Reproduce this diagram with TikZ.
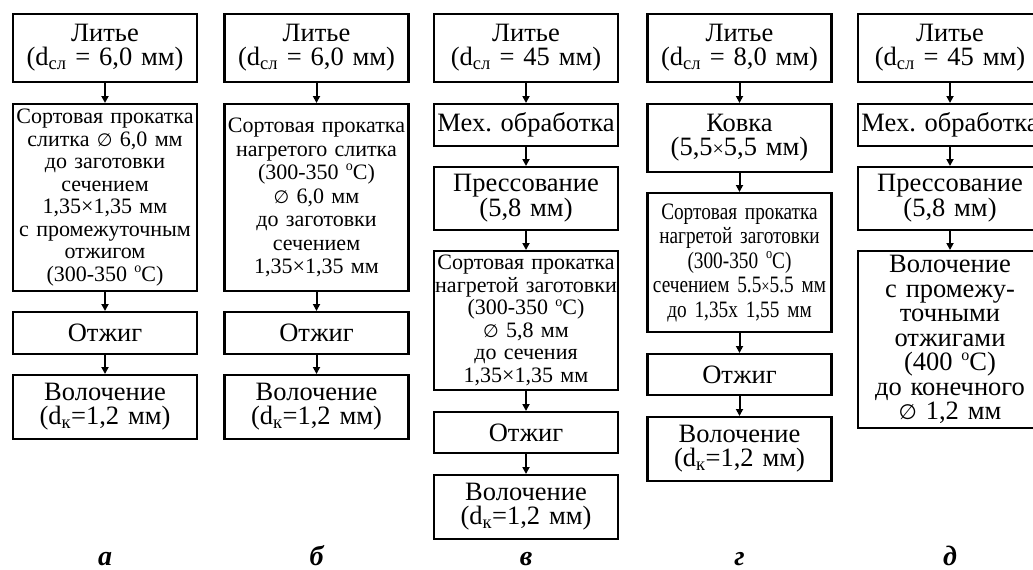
\documentclass[tikz,border=0pt]{standalone}
\usepackage{fontspec}
\setmainfont{Liberation Serif}
\newfontfamily\narrowserif{Liberation Serif}[FakeStretch=0.82]
\newfontfamily\symsans{DejaVu Sans}
\newcommand\dgr[1]{\raisebox{0.4em}{\fontsize{#1}{#1}\selectfont o}}
\newcommand\dia{{\symsans ∅}}
\usetikzlibrary{arrows.meta}
\begin{document}
\frenchspacing
\begin{tikzpicture}[x=1pt,y=-1pt]
\tikzset{
 bx/.style={draw, line width=2.2pt, inner xsep=1pt, inner ysep=0pt, text width=182pt,
   align=center, anchor=north, font=\fontsize{26.5}{24}\selectfont},
 sm/.style={font=\fontsize{22}{22.5}\selectfont},
 nar/.style={font=\narrowserif\fontsize{23.5}{24.5}\selectfont},
 arr/.style={line width=2pt, -{Triangle[length=7pt,width=7pt]}},
 lbl/.style={font=\fontsize{28}{28}\selectfont\bfseries\itshape, anchor=base}
}
\useasboundingbox (0,0) rectangle (1033,570);
\clip (0,0) rectangle (1033,570);
% column a
\node[bx, minimum height=68pt] (a1) at (105,13) {Литье\\(d\textsubscript{сл} = 6,0 мм)};
\node[bx, sm, minimum height=187pt] (a2) at (105,103) {Сортовая прокатка\\слитка {\fontsize{18}{18}\selectfont\dia} 6,0 мм\\до заготовки\\сечением\\1,35×1,35 мм\\с промежуточным\\отжигом\\(300-350 \dgr{14}С)};
\node[bx, minimum height=42pt] (a3) at (105,311) {Отжиг};
\node[bx, minimum height=64pt] (a4) at (105,374) {Волочение\\(d\textsubscript{к}=1,2 мм)};
\draw[arr] (a1) -- (a2);
\draw[arr] (a2) -- (a3);
\draw[arr] (a3) -- (a4);
% column b
\node[bx, minimum height=68pt] (b1) at (316.5,13) {Литье\\(d\textsubscript{сл} = 6,0 мм)};
\node[bx, font=\fontsize{22}{23.5}\selectfont, minimum height=187pt] (b2) at (316.5,103) {Сортовая прокатка\\нагретого слитка\\(300-350 \dgr{14}С)\\{\fontsize{18}{18}\selectfont\dia} 6,0 мм\\до заготовки\\сечением\\1,35×1,35 мм};
\node[bx, minimum height=42pt] (b3) at (316.5,311) {Отжиг};
\node[bx, minimum height=64pt] (b4) at (316.5,374) {Волочение\\(d\textsubscript{к}=1,2 мм)};
\draw[arr] (b1) -- (b2);
\draw[arr] (b2) -- (b3);
\draw[arr] (b3) -- (b4);
% column c
\node[bx, minimum height=68pt] (c1) at (526,13) {Литье\\(d\textsubscript{сл} = 45 мм)};
\node[bx, minimum height=42pt] (c2) at (526,103) {Мех. обработка};
\node[bx, minimum height=63pt] (c3) at (526,166) {Прессование\\(5,8 мм)};
\node[bx, sm, minimum height=139pt] (c4) at (526,250) {Сортовая прокатка\\нагретой заготовки\\(300-350 \dgr{14}С)\\{\fontsize{18}{18}\selectfont\dia} 5,8 мм\\до сечения\\1,35×1,35 мм};
\node[bx, minimum height=41pt] (c5) at (526,411) {Отжиг};
\node[bx, minimum height=64pt] (c6) at (526,474) {Волочение\\(d\textsubscript{к}=1,2 мм)};
\draw[arr] (c1) -- (c2);
\draw[arr] (c2) -- (c3);
\draw[arr] (c3) -- (c4);
\draw[arr] (c4) -- (c5);
\draw[arr] (c5) -- (c6);
% column d
\node[bx, minimum height=68pt] (d1) at (739.5,13) {Литье\\(d\textsubscript{сл} = 8,0 мм)};
\node[bx, minimum height=68pt] (d2) at (739.5,103) {Ковка\\(5,5{\fontsize{20}{20}\selectfont×}5,5 мм)};
\node[bx, nar, minimum height=139pt] (d3) at (739.5,192) {Сортовая прокатка\\нагретой заготовки\\(300-350 \dgr{15}С)\\сечением 5.5{\fontsize{18}{18}\selectfont×}5.5 мм\\до 1,35х 1,55 мм};
\node[bx, minimum height=41pt] (d4) at (739.5,353) {Отжиг};
\node[bx, minimum height=64pt] (d5) at (739.5,416) {Волочение\\(d\textsubscript{к}=1,2 мм)};
\draw[arr] (d1) -- (d2);
\draw[arr] (d2) -- (d3);
\draw[arr] (d3) -- (d4);
\draw[arr] (d4) -- (d5);
% column e
\node[bx, minimum height=68pt] (e1) at (950,13) {Литье\\(d\textsubscript{сл} = 45 мм)};
\node[bx, minimum height=42pt] (e2) at (950,103) {Мех. обработка};
\node[bx, minimum height=63pt] (e3) at (950,166) {Прессование\\(5,8 мм)};
\node[bx, font=\fontsize{26.5}{24.5}\selectfont, minimum height=177pt] (e4) at (950,250) {Волочение\\с промежу-\\точными\\отжигами\\(400 \dgr{16}С)\\до конечного\\{\fontsize{21}{21}\selectfont\dia} 1,2 мм};
\draw[arr] (e1) -- (e2);
\draw[arr] (e2) -- (e3);
\draw[arr] (e3) -- (e4);
% labels
\node[lbl] (la) at (105,565) {а};
\node[lbl] (lb) at (316.5,565) {б};
\node[lbl] (lc) at (526,565) {в};
\node[lbl] (ld) at (739.5,565) {г};
\node[lbl] (le) at (950,565) {д};
\end{tikzpicture}
\end{document}
